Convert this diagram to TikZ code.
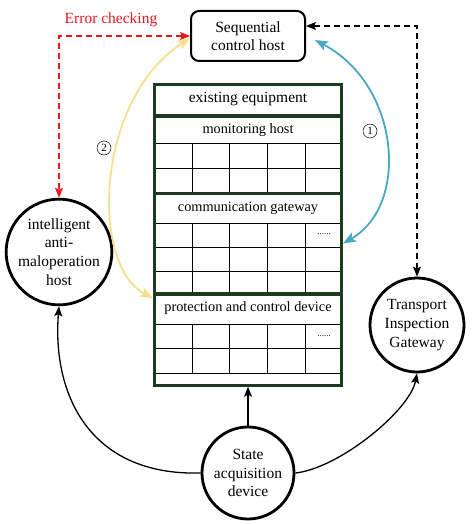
\documentclass[tikz,border=0pt]{standalone}
\usepackage{fontspec}
\setmainfont{Liberation Serif}
\usetikzlibrary{arrows.meta}

\definecolor{eqgreen}{RGB}{27,58,32}
\definecolor{errred}{RGB}{232,22,28}
\definecolor{linkyellow}{RGB}{248,222,142}
\definecolor{linkblue}{RGB}{72,168,196}

\tikzset{
  station/.style = {circle, draw, line width = 2.8pt, align = center,
    inner sep = 0pt, font = \fontsize{15.5}{18.7}\selectfont},
  hostbox/.style = {draw, rounded corners = 8pt, line width = 2pt, align = center,
    minimum width = 114pt, minimum height = 50pt, font = \fontsize{15.5}{18}\selectfont},
  section/.style = {draw = eqgreen, line width = 3pt, minimum width = 187pt, inner sep = 0pt},
  sectitle/.style = {inner sep = 0pt, font = \fontsize{14.3}{16}\selectfont},
  moredots/.style = {inner sep = 0pt, font = \fontsize{9}{9}\selectfont},
  numcirc/.style = {circle, draw, line width = .5pt, minimum size = 14pt, inner sep = 0pt,
    font = \fontsize{11}{11}\selectfont},
  link/.style = {line width = 1.3pt, ->},
  duplex/.style = {line width = 1.2pt, <->},
  longdash/.style = {dash pattern = on 6pt off 4pt},
  bigtips/.style = {>={Stealth[length = 13pt, width = 10pt, inset = 3pt]}}
}

\begin{document}
\begin{tikzpicture}[x = 1pt, y = -1pt, >={Stealth[length = 10pt, width = 8pt, inset = 2pt]}]
  \useasboundingbox (0, 0) rectangle (474, 524);

  % hosts and devices
  \node[hostbox] (seq) at (248, 36) {Sequential\\control host};
  \node[station, minimum size = 104pt] (intel) at (59, 252)
    {intelligent\\anti-\\maloperation\\host};
  \node[station, minimum size = 94pt] (trans) at (417, 325)
    {Transport\\Inspection\\Gateway};
  \node[station, minimum size = 92pt] (state) at (248, 473)
    {State\\acquisition\\device};

  % grid of the existing equipment
  \foreach \y in {143, 168, 223, 247, 271, 324, 348, 373}
    \draw[line width = .7pt] (154.5, \y) -- (341.5, \y);
  \foreach \x in {192, 229, 267, 305} {
    \draw[line width = .7pt] (\x, 143) -- (\x, 193);
    \draw[line width = .7pt] (\x, 223) -- (\x, 294);
    \draw[line width = .7pt] (\x, 324) -- (\x, 373);
  }

  % existing equipment
  \node[section, minimum height = 31.5pt] (head) at (248, 100) {};
  \node[section, minimum height = 77pt]   (mon)  at (248, 154.5) {};
  \node[section, minimum height = 101pt]  (comm) at (248, 243.5) {};
  \node[section, minimum height = 91.5pt] (prot) at (248, 339.5) {};
  \node[sectitle, font = \fontsize{15.5}{17}\selectfont] (headtitle) at (248, 99) {existing equipment};
  \node[sectitle] (montitle)  at (248, 130) {monitoring host};
  \node[sectitle] (commtitle) at (248, 208) {communication gateway};
  \node[sectitle] (prottitle) at (248, 308) {protection and control device};
  \node[moredots] (commdots) at (324, 234) {......};
  \node[moredots] (protdots) at (324, 336) {......};

  % connections
  \draw[link] (state.north) -- (prot.south);
  \draw[link] (state.west) .. controls (90, 476) and (52, 395) .. (intel.south);
  \draw[link] (state.east) .. controls (340, 468) and (410, 410) .. (trans.south);
  \draw[duplex, longdash] ([yshift = 10pt]seq.east) -| (trans.north);
  \draw[duplex, longdash, errred] (seq.west) -| (intel.north);
  \node[text = errred, inner sep = 0pt, font = \fontsize{15.5}{17}\selectfont] (errlabel)
    at (111, 20) {Error checking};
  \draw[duplex, bigtips, line width = 1.8pt, linkyellow] ([yshift = -6pt]prot.north west)
    .. controls (90, 265) and (95, 100) .. ([yshift = -2pt]seq.west);
  \draw[duplex, bigtips, line width = 1.8pt, linkblue] ([shift = {(9pt, -4pt)}]seq.east)
    .. controls (400, 85) and (410, 205) .. (comm.east);
  \node[numcirc] (one) at (370, 131) {1};
  \node[numcirc] (two) at (104, 148) {2};
\end{tikzpicture}
\end{document}
